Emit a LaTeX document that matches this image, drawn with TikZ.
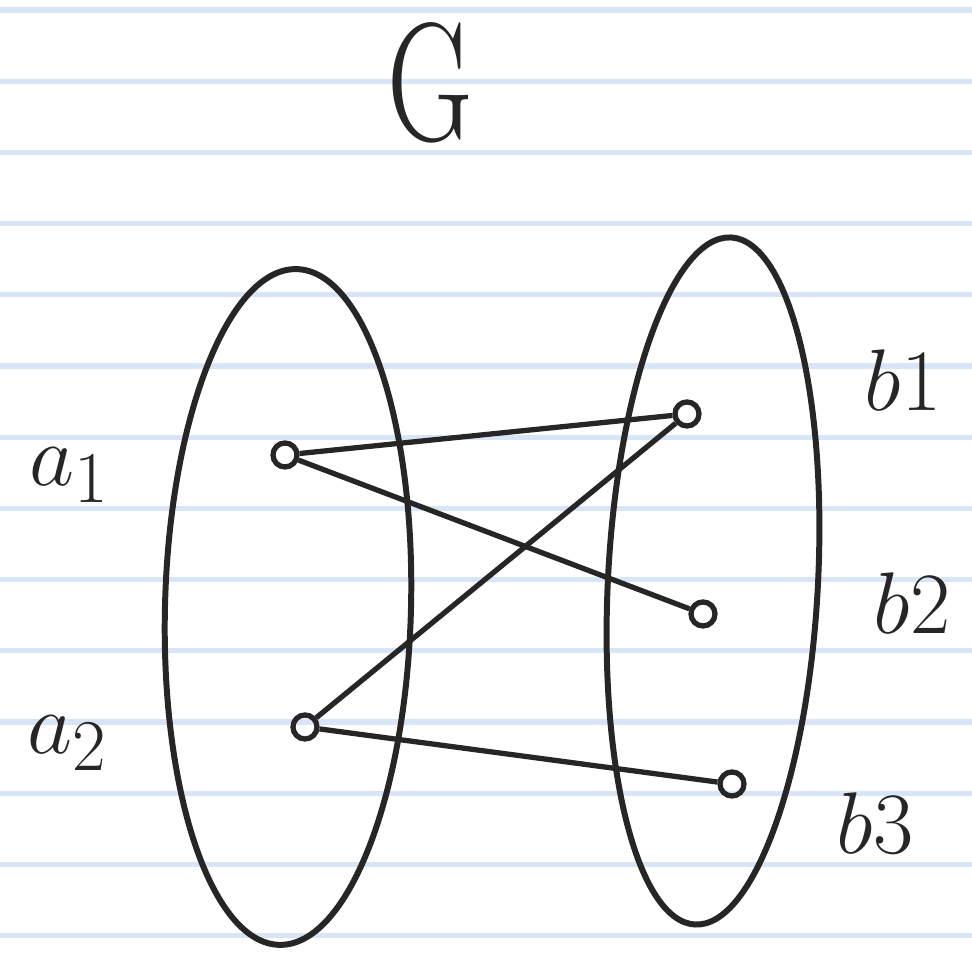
\documentclass[tikz,border=0pt]{standalone}
\definecolor{ink}{RGB}{38,38,38}
\definecolor{rule}{RGB}{216,229,247}
\tikzset{
  vertex/.style={circle,draw=ink,line width=1.5pt,minimum size=0.24cm,inner sep=0pt},
  lbl/.style={color=ink,font=\fontsize{30}{30}\selectfont}
}
\begin{document}
\begin{tikzpicture}[x=0.01cm,y=0.01cm]
\useasboundingbox (0,0) rectangle (972,955);
\foreach \k in {0,...,13}
  \draw[color=rule,line width=1.5pt] (0,{945-71.2*\k}) -- (972,{945-71.2*\k});
\node[color=ink,font=\fontsize{48}{48}\selectfont,xscale=0.7,transform shape] (title) at (430,872) {G};
\draw[color=ink,line width=1.7pt,rotate around={-1.5:(288,348)}] (288,348) ellipse (123 and 338);
\draw[color=ink,line width=1.7pt,rotate around={-3:(713,374)}] (713,374) ellipse (105 and 344);
\node[vertex] (a1) at (285,500) {};
\node[vertex] (a2) at (305,228) {};
\node[vertex] (b1) at (687,541) {};
\node[vertex] (b2) at (703,341) {};
\node[vertex] (b3) at (732,171) {};
\node[lbl] (la1) at (70,480) {$a_1$};
\node[lbl] (la2) at (68,212) {$a_2$};
\node[lbl] (lb1) at (903,575) {$b1$};
\node[lbl] (lb2) at (912,352) {$b2$};
\node[lbl] (lb3) at (875,132) {$b3$};
\draw[color=ink,line width=1.5pt] (a1) -- (b1);
\draw[color=ink,line width=1.5pt] (a1) -- (b2);
\draw[color=ink,line width=1.5pt] (a2) -- (b1);
\draw[color=ink,line width=1.5pt] (a2) -- (b3);
%\draw[color=ink] (title) -- (a1);
\end{tikzpicture}
\end{document}
